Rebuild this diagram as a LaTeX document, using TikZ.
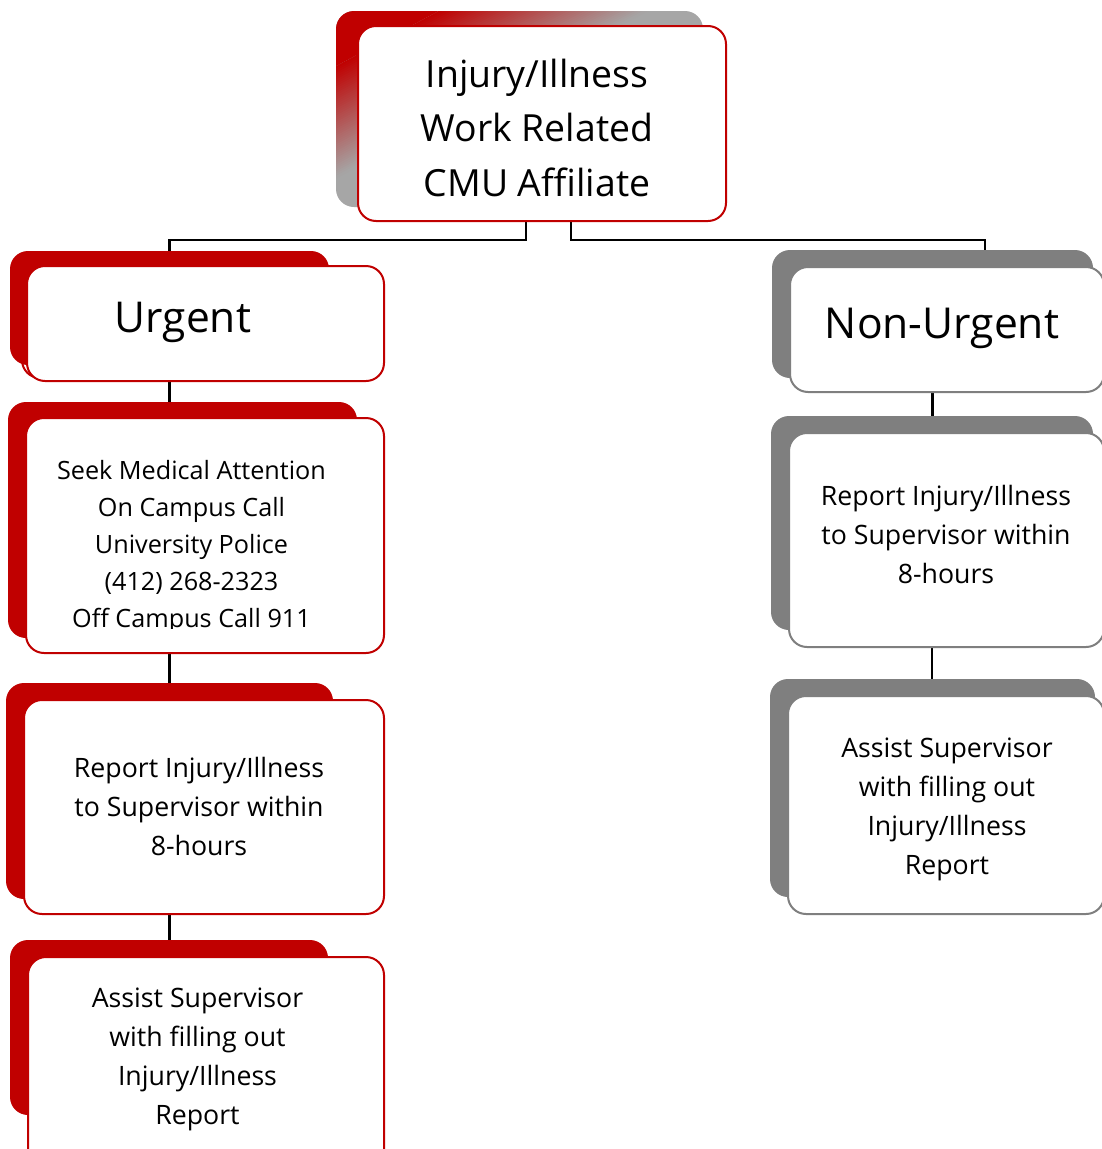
\documentclass[tikz,border=0pt]{standalone}
\usepackage{fontspec}
\setmainfont{Open Sans}
\usetikzlibrary{backgrounds}
\definecolor{cmured}{HTML}{C00000}
\definecolor{shgray}{HTML}{7F7F7F}
\definecolor{lgray}{HTML}{A6A6A6}
\tikzset{
  boxbase/.style={rectangle, rounded corners=18, outer sep=0pt, inner sep=0pt},
  redsh/.style={boxbase, fill=cmured},
  graysh/.style={boxbase, fill=shgray},
  redbox/.style={boxbase, fill=white, draw=cmured, line width=2},
  graybox/.style={boxbase, fill=white, draw=shgray, line width=2},
  txt/.style={align=center, inner sep=0pt, text=black},
  small/.style={txt, font=\fontsize{26.7}{39}\selectfont},
  conn/.style={draw=black, line width=2.2}
}
\begin{document}
\begin{tikzpicture}[x=1pt, y=-1pt]
\useasboundingbox (0,0) rectangle (1102,1149);
\clip (0,0) rectangle (1102,1149);

% top box with red-to-grey gradient shadow
\node[boxbase, fill=lgray, minimum width=367, minimum height=196] (topsh) at (519.5,109) {};
\begin{scope}
  \clip[rounded corners=18] (topsh.north west) rectangle (topsh.south east);
  \fill[cmured] (647,-323) -- ({336+311*0.33+622},-323) -- ({336+311*0.33-622},345) -- (-597,345) -- cycle;
  \foreach \i in {0,...,49} {
    \pgfmathsetmacro\ta{0.33+0.67*\i/50}
    \pgfmathsetmacro\tb{\ta+0.67*1.3/50}
    \pgfmathsetmacro\mx{100*(1-(\i+0.5)/50)}
    \fill[cmured!\mx!lgray] ({336+311*\ta+622},-323) -- ({336+311*\tb+622},-323) -- ({336+311*\tb-622},345) -- ({336+311*\ta-622},345) -- cycle;
  }
\end{scope}
\node[redbox, minimum width=368, minimum height=195] (topbox) at (542,123.5) {};
\node[txt, font=\fontsize{37.4}{54.5}\selectfont] (toptxt) at (537,127.5) {Injury/Illness\\Work Related\\CMU Affiliate};

% Urgent column
\node[redbox, minimum width=357, minimum height=110] (urgout) at (200.5,323) {};
\node[redsh, minimum width=319, minimum height=114] (urgsh) at (169.5,308) {};
\node[redbox, minimum width=357, minimum height=115] (urgbox) at (205.5,323.5) {};
\node[txt, font=\fontsize{42.5}{52}\selectfont] (urgtxt) at (183,322) {Urgent};

\node[redsh, minimum width=349, minimum height=236] (seeksh) at (182.5,520) {};
\node[redbox, minimum width=358, minimum height=235] (seekbox) at (205,535.5) {};
\begin{scope}
  \clip (26,418) rectangle (384,628);
  \node[txt, font=\fontsize{25.2}{37}\selectfont] (seektxt) at (191.5,546.5) {Seek Medical Attention\\On Campus Call\\University Police\\(412) 268-2323\\Off Campus Call 911};
\end{scope}

\node[redsh, minimum width=327, minimum height=216] (repsh) at (169.5,791) {};
\node[redbox, minimum width=360, minimum height=214] (repbox) at (204,807) {};
\node[small] (reptxt) at (199,806) {Report Injury/Illness\\to Supervisor within\\8-hours};

\node[redsh, minimum width=318, minimum height=175] (assish) at (169,1027.5) {};
\node[redbox, minimum width=356, minimum height=218] (assibox) at (206,1066) {};
\node[small] (assitxt) at (197.5,1059) {Assist Supervisor\\with filling out\\Injury/Illness\\Report};

% Non-Urgent column
\node[graysh, minimum width=321, minimum height=128] (nush) at (932.5,314) {};
\node[graybox, minimum width=314, minimum height=125] (nubox) at (947,329.5) {};
\node[txt, font=\fontsize{42.6}{52}\selectfont] (nutxt) at (942,328.5) {Non-Urgent};

\node[graysh, minimum width=322, minimum height=214] (rrsh) at (932,523) {};
\node[graybox, minimum width=315, minimum height=214] (rrbox) at (946.5,540) {};
\node[small] (rrtxt) at (946,534) {Report Injury/Illness\\to Supervisor within\\8-hours};

\node[graysh, minimum width=325, minimum height=218] (arsh) at (932.5,788) {};
\node[graybox, minimum width=316, minimum height=218] (arbox) at (946,805) {};
\node[small] (artxt) at (947,809.5) {Assist Supervisor\\with filling out\\Injury/Illness\\Report};

% connectors
\coordinate (jL) at (526,240);
\coordinate (jR) at (571,240);
\coordinate (nuin) at (985,250);
\begin{scope}[on background layer]
  \draw[conn] (topbox.south -| jL) -- (jL) -| (urgsh.north);
  \draw[conn] (topbox.south -| jR) -- (jR) -| (nuin);
  \draw[conn] (urgsh.south) -- (urgsh.south |- seeksh.north);
  \draw[conn] (repsh.north |- seekbox.south) -- (repsh.north);
  \draw[conn] (repsh.south) -- (repsh.south |- assish.north);
  \draw[conn] (nush.south) -- (nush.south |- rrsh.north);
  \draw[conn] (rrsh.south) -- (rrsh.south |- arsh.north);
\end{scope}
\end{tikzpicture}
\end{document}
